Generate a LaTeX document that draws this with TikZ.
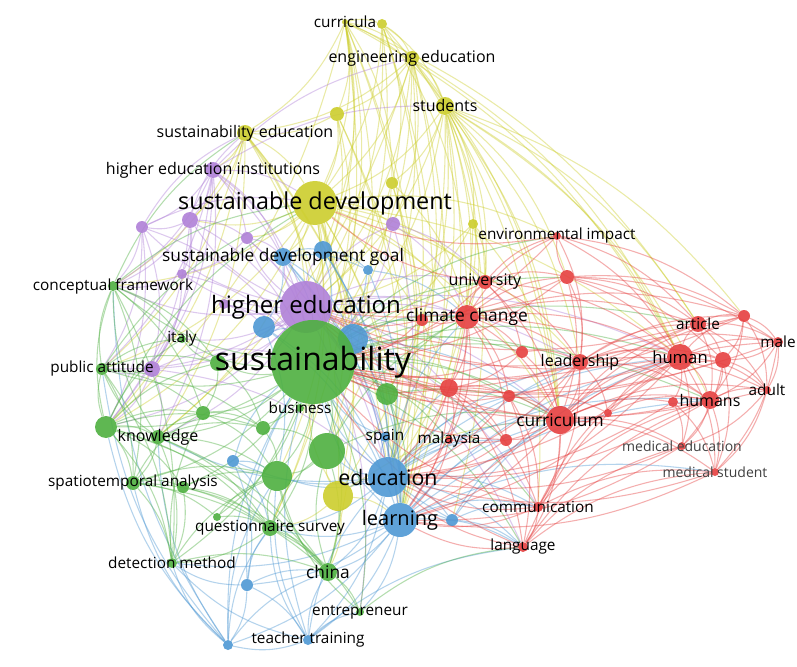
\documentclass[tikz,border=0pt]{standalone}
\usepackage{fontspec}
\setmainfont{Open Sans}
\usetikzlibrary{positioning}
\definecolor{vyel}{RGB}{205,206,45}
\definecolor{vpur}{RGB}{176,128,216}
\definecolor{vblu}{RGB}{78,152,212}
\definecolor{vgrn}{RGB}{78,176,64}
\definecolor{vred}{RGB}{230,64,64}
\pgfdeclarelayer{edges}
\pgfdeclarelayer{labels}
\pgfsetlayers{edges,main,labels}
\newcommand{\lsz}[1]{\fontsize{#1}{#1}\selectfont}
\tikzstyle{kw} = [circle, inner sep=0pt, fill opacity=0.9]
\tikzstyle{yk} = [kw, fill=vyel]
\tikzstyle{pk} = [kw, fill=vpur]
\tikzstyle{bk} = [kw, fill=vblu]
\tikzstyle{gk} = [kw, fill=vgrn]
\tikzstyle{rk} = [kw, fill=vred]
\tikzstyle{link} = [line width=0.8pt, draw opacity=0.42, bend left=16]
\tikzstyle{lbl} = [inner sep=0pt, font=\lsz{11.5}]
\tikzstyle{mlbl} = [lbl, font=\lsz{10.5}, text=black!75]

\begin{document}
\begin{tikzpicture}[x=0.75pt, y=-0.75pt]
    \useasboundingbox (0,0) rectangle (797,667);
    % yellow cluster
    \node[yk, minimum size=4.5pt] (curricula) at (345,22) {};
    \node[yk, minimum size=7.5pt] (y1) at (382,24) {};
    \node[yk, minimum size=10.5pt] (engedu) at (412,58) {};
    \node[yk, minimum size=13.5pt] (students) at (445,106) {};
    \node[yk, minimum size=10.5pt] (y2) at (337,114) {};
    \node[yk, minimum size=12pt] (susedu) at (245,133) {};
    \node[yk, minimum size=33pt] (sdev) at (315,203) {};
    \node[yk, minimum size=9pt] (y3) at (392,183) {};
    \node[yk, minimum size=7.5pt] (y4) at (473,224) {};
    \node[yk, minimum size=22.5pt] (y5) at (338,496) {};
    % purple cluster
    \node[pk, minimum size=12pt] (heinst) at (213,170) {};
    \node[pk, minimum size=39pt] (hedu) at (306,307) {};
    \node[pk, minimum size=12pt] (p1) at (190,220) {};
    \node[pk, minimum size=9pt] (p2) at (247,238) {};
    \node[pk, minimum size=10.5pt] (p3) at (393,224) {};
    \node[pk, minimum size=7.5pt] (p4) at (182,274) {};
    \node[pk, minimum size=9pt] (p5) at (142,227) {};
    \node[pk, minimum size=12pt] (p6) at (152,369) {};
    \node[pk, minimum size=7.5pt] (p7) at (224,304) {};
    % blue cluster
    \node[bk, minimum size=13.5pt] (sdg) at (283,257) {};
    \node[bk, minimum size=13.5pt] (b2) at (323,250) {};
    \node[bk, minimum size=7.5pt] (b3) at (368,270) {};
    \node[bk, minimum size=16.5pt] (b4) at (264,327) {};
    \node[bk, minimum size=22.5pt] (b5) at (353,339) {};
    \node[bk, minimum size=30pt] (edu) at (388,477) {};
    \node[bk, minimum size=25.5pt] (learn) at (400,520) {};
    \node[bk, minimum size=9pt] (b6) at (452,520) {};
    \node[bk, minimum size=7.5pt] (spain) at (385,437) {};
    \node[bk, minimum size=9pt] (b7) at (233,461) {};
    \node[bk, minimum size=9pt] (b8) at (247,585) {};
    \node[bk, minimum size=7.5pt] (teacher) at (308,640) {};
    \node[bk, minimum size=7.5pt] (b9) at (228,645) {};
    % green cluster
    \node[gk, minimum size=63pt] (sust) at (313,362) {};
    \node[gk, minimum size=6pt] (business) at (300,408) {};
    \node[gk, minimum size=16.5pt] (g1) at (387,394) {};
    \node[gk, minimum size=10.5pt] (g2) at (203,413) {};
    \node[gk, minimum size=10.5pt] (g3) at (263,428) {};
    \node[gk, minimum size=27pt] (g4) at (327,451) {};
    \node[gk, minimum size=22.5pt] (g5) at (277,476) {};
    \node[gk, minimum size=16.5pt] (g6) at (106,427) {};
    \node[gk, minimum size=10.5pt] (knowledge) at (158,437) {};
    \node[gk, minimum size=10.5pt] (spatio) at (133,483) {};
    \node[gk, minimum size=9pt] (g7) at (183,487) {};
    \node[gk, minimum size=6pt] (g8) at (217,517) {};
    \node[gk, minimum size=12pt] (quest) at (270,528) {};
    \node[gk, minimum size=7.5pt] (detect) at (172,563) {};
    \node[gk, minimum size=13.5pt] (china) at (328,572) {};
    \node[gk, minimum size=6pt] (entre) at (360,612) {};
    \node[gk, minimum size=7.5pt] (concept) at (113,286) {};
    \node[gk, minimum size=6pt] (italy) at (182,339) {};
    \node[gk, minimum size=9pt] (public) at (102,369) {};
    \node[gk, minimum size=12pt] (g9) at (218,363) {};
    % red cluster
    \node[rk, minimum size=18pt] (climate) at (467,317) {};
    \node[rk, minimum size=9pt] (r1) at (422,320) {};
    \node[rk, minimum size=10.5pt] (univ) at (485,282) {};
    \node[rk, minimum size=10.5pt] (r2) at (567,277) {};
    \node[rk, minimum size=6pt] (envimp) at (557,236) {};
    \node[rk, minimum size=9pt] (r3) at (522,352) {};
    \node[rk, minimum size=12pt] (leader) at (580,362) {};
    \node[rk, minimum size=13.5pt] (r4) at (449,388) {};
    \node[rk, minimum size=9pt] (r5) at (509,396) {};
    \node[rk, minimum size=6pt] (r6) at (608,413) {};
    \node[rk, minimum size=21pt] (curric) at (560,420) {};
    \node[rk, minimum size=6pt] (malay) at (449,440) {};
    \node[rk, minimum size=9pt] (r7) at (506,440) {};
    \node[rk, minimum size=19.5pt] (human) at (680,357) {};
    \node[rk, minimum size=12pt] (article) at (698,324) {};
    \node[rk, minimum size=9pt] (r8) at (744,316) {};
    \node[rk, minimum size=7.5pt] (male) at (778,342) {};
    \node[rk, minimum size=12pt] (r9) at (723,360) {};
    \node[rk, minimum size=6pt] (adult) at (767,390) {};
    \node[rk, minimum size=13.5pt] (humans) at (710,400) {};
    \node[rk, minimum size=7.5pt] (r10) at (673,402) {};
    \node[rk, minimum size=6pt] (medu) at (682,446) {};
    \node[rk, minimum size=6pt] (mstud) at (715,472) {};
    \node[rk, minimum size=7.5pt] (comm) at (538,507) {};
    \node[rk, minimum size=7.5pt] (lang) at (523,547) {};

    \begin{pgfonlayer}{edges}
    \fill[white] (0,0) rectangle (797,667);
    \foreach \a/\bs in {curricula/{sdev,students,engedu,y1,susedu,sust,hedu,edu,learn,y2,y3,b2,g4,quest,human,article,g6},
        y1/{engedu,students,sdev,sust,y3,edu,hedu,learn,climate,curric},
        engedu/{students,sdev,sust,hedu,edu,learn,curric,y2,susedu,g4,univ,p3,human,knowledge},
        students/{sdev,sust,hedu,edu,learn,curric,climate,human,y4,y3,r2,leader,univ,g1,y5,b6,comm,article,humans,r8,r4},
        y2/{sdev,sust,hedu,susedu,edu,learn},
        susedu/{sdev,sust,hedu,heinst,p1,edu,g6,concept,learn,y5,public,knowledge},
        sdev/{sust,hedu,edu,learn,climate,sdg,b2,p1,p2,p3,g6,knowledge,public,curric,univ,china,quest,y5,g5,envimp,r4,g4,human,leader,concept},
        y3/{sust,hedu,climate,edu,learn}, y4/{sust,climate,univ,hedu,edu,curric},
        y5/{sust,edu,learn,quest,china,g4,curric}}
        {\foreach \b in \bs {\draw[link, vyel] (\a) to (\b);}}
    \foreach \a/\bs in {heinst/{hedu,sust,p1,p2,p5,sdev,sdg,public,concept,p6,g6,engedu,students,knowledge},
        hedu/{sust,edu,learn,climate,curric,p1,p2,p3,p4,p5,p6,p7,sdg,b2,b4,b5,g6,knowledge,public,italy,g9,concept,univ,leader,r4,human,comm,lang,entre},
        p1/{sust,p5,p4,p2,concept,p6,susedu,g6}, p2/{sust,p4,sdg,edu}, p3/{sust,climate,univ,edu},
        p4/{sust,concept,p6}, p5/{concept,sust,p6,g6,public,susedu,sdev}, p6/{sust,public,g6,knowledge,edu}, p7/{sust,b4}}
        {\foreach \b in \bs {\draw[link, vpur] (\a) to (\b);}}
    \foreach \a/\bs in {sdg/{sust,b2,b3,b4,b5,edu,learn}, b2/{sust,b5,learn,b3,edu}, b3/{sust,edu,climate},
        b4/{sust,edu,learn,g5}, b5/{sust,edu,learn,climate,curric},
        edu/{sust,learn,curric,climate,human,leader,r4,r5,comm,lang,b6,g4,g5,quest,china,spain,b7,teacher,malay,r7,humans,knowledge},
        learn/{sust,curric,human,comm,lang,b6,china,teacher,b8,b9,entre,quest,leader,mstud,humans,detect},
        b6/{sust,comm,lang,curric,human}, spain/{sust,learn}, b7/{sust,g5,quest,b8},
        b8/{sust,teacher,detect,quest,china,b9},
        teacher/{b9,china,entre,sust,quest,g5,detect,edu,lang},
        b9/{detect,knowledge,spatio,g6,quest,china,sust,g5,concept,public}}
        {\foreach \b in \bs {\draw[link, vblu] (\a) to (\b);}}
    \foreach \a/\bs in {sust/{g1,g2,g3,g4,g5,g6,knowledge,spatio,g7,g8,quest,detect,china,entre,concept,italy,public,g9,business,climate,curric,human,leader,univ,r1,r2,r3,r4,r5,r7,malay,humans,article,comm,lang,envimp},
        g1/{edu,climate,curric,learn},
        g6/{knowledge,public,concept,spatio,g2,g3,detect,quest,g7,china,italy,g9,sdev},
        knowledge/{spatio,g2,g3,g5,quest,detect,china,public,concept},
        spatio/{g7,g8,detect,quest,g5,china,g2}, g7/{quest,detect,g5,china}, g8/{quest,g5},
        quest/{g5,china,detect,entre,g4}, detect/{china,g5,g2}, china/{entre,g4,g5},
        public/{concept,g2,g9,italy,g3,spatio,detect,sdev}, concept/{italy,g2,g9,detect,spatio,sdev,susedu}, g9/{g2,g3,italy},
        g2/{g3,g5}, g3/{g4,g5}, g4/{g5,china,curric,climate}, entre/{g5,lang}}
        {\foreach \b in \bs {\draw[link, vgrn] (\a) to (\b);}}
    \foreach \a/\bs in {climate/{r1,univ,r2,envimp,r3,leader,r4,r5,curric,malay,r7,human,article,humans,r8,edu,learn},
        univ/{r2,envimp,leader,curric,r3,human,sust,hedu,sdev},
        r2/{envimp,leader,human,article,curric,r8,male,r9,sust,hedu},
        envimp/{leader,human,article,r8,sdev,sust}, r3/{leader,curric,r4,sust},
        leader/{curric,human,article,humans,r9,r6,r5,r8,male,adult,comm,hedu,sust,edu,learn},
        r4/{curric,malay,r5,r7,comm,lang,sust,hedu,edu,learn}, r5/{curric,r6,lang,comm,sust,edu}, r6/{curric,human,humans},
        curric/{human,humans,article,r9,r10,medu,mstud,comm,lang,r7,malay,adult,male,r8,learn,edu,hedu},
        human/{article,r8,male,r9,adult,humans,r10,medu,mstud,sust,edu,learn,hedu},
        article/{r8,male,r9,humans,adult,sust,hedu}, r8/{male,r9,adult,humans,sust},
        male/{r9,adult,humans,mstud,sust}, r9/{adult,humans,mstud,medu,sust},
        humans/{adult,r10,medu,mstud,sust,edu}, r10/{medu,mstud,edu}, adult/{mstud,medu,sust},
        comm/{lang,mstud,humans,human,edu,learn,sust}, lang/{mstud,humans,human,medu,learn,edu,sust},
        malay/{edu,learn}, r7/{edu,sust}, r1/{sust,hedu}, mstud/{learn,edu}, medu/{learn,edu}}
        {\foreach \b in \bs {\draw[link, vred] (\a) to (\b);}}
    \end{pgfonlayer}

    \begin{pgfonlayer}{labels}
    \node[lbl] at (curricula) {curricula};
    \node[lbl, font=\lsz{12}] at (engedu) {engineering education};
    \node[lbl, font=\lsz{12}] at (students) {students};
    \node[lbl, font=\lsz{12}] at (susedu) {sustainability education};
    \node[lbl, font=\lsz{12}] at (heinst) {higher education institutions};
    \node[lbl, font=\lsz{17.5}] at (sdev) {sustainable development};
    \node[lbl, font=\lsz{13}] at (sdg) {sustainable development goal};
    \node[lbl] at (concept) {conceptual framework};
    \node[lbl, font=\lsz{18}] at (hedu) {higher education};
    \node[lbl] at (italy) {italy};
    \node[lbl] at (public) {public attitude};
    \node[lbl, font=\lsz{24}] at (sust) {sustainability};
    \node[lbl] at (business) {business};
    \node[lbl, font=\lsz{12}] at (knowledge) {knowledge};
    \node[lbl] at (spain) {spain};
    \node[lbl] at (spatio) {spatiotemporal analysis};
    \node[lbl, font=\lsz{16}] at (edu) {education};
    \node[lbl, font=\lsz{15}] at (learn) {learning};
    \node[lbl] at (quest) {questionnaire survey};
    \node[lbl] at (detect) {detection method};
    \node[lbl, font=\lsz{13}] at (china) {china};
    \node[lbl] at (entre) {entrepreneur};
    \node[lbl] at (teacher) {teacher training};
    \node[lbl] at (envimp) {environmental impact};
    \node[lbl, font=\lsz{12}] at (univ) {university};
    \node[lbl, font=\lsz{13}] at (climate) {climate change};
    \node[lbl, font=\lsz{12}] at (leader) {leadership};
    \node[lbl, font=\lsz{13}] at (curric) {curriculum};
    \node[lbl] at (malay) {malaysia};
    \node[lbl, font=\lsz{12.5}] at (human) {human};
    \node[lbl] at (article) {article};
    \node[lbl] at (male) {male};
    \node[lbl] at (adult) {adult};
    \node[lbl, font=\lsz{12}] at (humans) {humans};
    \node[mlbl] at (medu) {medical education};
    \node[mlbl] at (mstud) {medical student};
    \node[lbl] at (comm) {communication};
    \node[lbl] at (lang) {language};
    \end{pgfonlayer}
\end{tikzpicture}
\end{document}
